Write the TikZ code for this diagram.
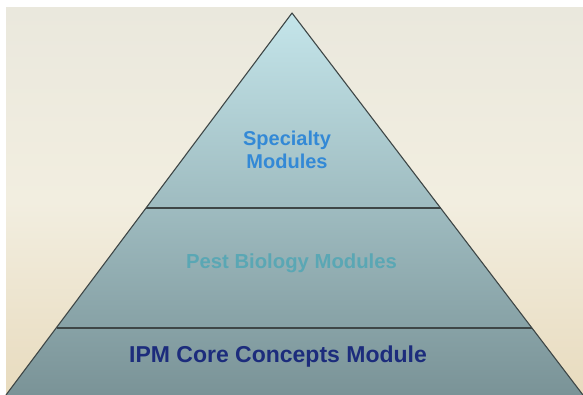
\documentclass[tikz,border=0pt]{standalone}
\usepackage{fontspec}
\setmainfont{Liberation Sans}
\definecolor{bgtop}{HTML}{EAE8DD}
\definecolor{bgmid}{HTML}{F2EEE0}
\definecolor{bgbot}{HTML}{E8DBBE}
\definecolor{pyrtop}{HTML}{C4E5EA}
\definecolor{pyrbot}{HTML}{7A9397}
\definecolor{edge}{HTML}{3E4646}
\definecolor{specblue}{HTML}{3389D6}
\definecolor{pestteal}{HTML}{5AA7B4}
\definecolor{corenavy}{HTML}{1C2C7C}
\tikzset{
  edgeline/.style={draw=edge, line width=1.1pt, line join=round},
  lbl/.style={font=\bfseries, align=center, inner sep=0pt},
}
\begin{document}
\begin{tikzpicture}[x=1pt,y=-1pt]
\useasboundingbox (0,0) rectangle (583,395);
\fill[white] (0,0) rectangle (583,395);
\shade[top color=bgtop, bottom color=bgbot, middle color=bgmid] (6,8) rectangle (583,395);
\coordinate (apex) at (292,13);
\coordinate (bl) at (6,395);
\coordinate (br) at (583,395);
\coordinate (l1) at (146,208);
\coordinate (r1) at (440.5,208);
\coordinate (l2) at (56.5,328);
\coordinate (r2) at (532,328);
\shade[top color=pyrtop, bottom color=pyrbot] (apex) -- (bl) -- (br) -- cycle;
\draw[edgeline] (bl) -- (apex) -- (br);
\draw[edgeline] (l1) -- (r1);
\draw[edgeline] (l2) -- (r2);
\node[lbl, text=specblue, font=\bfseries\fontsize{20}{23.5}\selectfont] (spec) at (287,150) {Specialty\\Modules};
\node[lbl, text=pestteal, font=\bfseries\fontsize{20.3}{24}\selectfont, anchor=base] (pest) at (291.5,269) {Pest Biology Modules};
\node[lbl, text=corenavy, font=\bfseries\fontsize{23}{27}\selectfont, anchor=base] (core) at (278,362) {IPM Core Concepts Module};
\end{tikzpicture}
\end{document}
